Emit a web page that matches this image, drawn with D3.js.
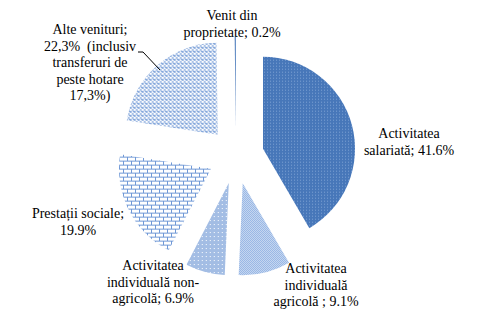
<!DOCTYPE html>
<html>
<head>
<meta charset="utf-8">
<script src="https://cdn.jsdelivr.net/npm/d3@7/dist/d3.min.js"></script>
<style>
  body { margin: 0; background: #fff; }
</style>
</head>
<body>
<svg width="484" height="318"></svg>
<script>
// slice data, clockwise from 12 o'clock
var categories = ["Activitatea salariată", "Activitatea individuală agricolă", "Activitatea individuală non-agricolă", "Prestații sociale", "Alte venituri", "Venit din proprietate"];
var values = [41.6, 9.1, 6.9, 19.9, 22.3, 0.2];
var labelLines = [
  ["Activitatea", "salariată; 41.6%"],
  ["Activitatea", "individuală", "agricolă ; 9.1%"],
  ["Activitatea", "individuală non-", "agricolă; 6.9%"],
  ["Prestații sociale;", "19.9%"],
  ["Alte venituri;", "22,3%  (inclusiv", "transferuri de", "peste hotare", "17,3%)"],
  ["Venit din", "proprietate; 0.2%"]
];

// layout
var cx = 236, cy = 156, r = 92, explode = 28, lineH = 16.6;
var labelAt = [[409, 138], [316, 273], [153, 270], [78, 218], [90, 34], [232, 20]];

var svg = d3.select('svg');
var defs = svg.append('defs');

function pat(id, w, h, bg) {
  var p = defs.append('pattern').attr('id', id).attr('patternUnits', 'userSpaceOnUse')
    .attr('width', w).attr('height', h);
  p.append('rect').attr('width', w).attr('height', h).attr('fill', bg);
  return p;
}
function px(p, x, y, w, h, c) {
  p.append('rect').attr('x', x).attr('y', y).attr('width', w).attr('height', h).attr('fill', c);
}

// salariata: dark blue, light dots
var p0 = pat('p0', 3, 3, '#4777b9');
px(p0, 1, 1, 1, 1, '#7ea2d4');
// agricola: fine checker
var p1 = pat('p1', 2, 2, '#ffffff');
px(p1, 0, 0, 1, 1, '#5f8fd6'); px(p1, 1, 1, 1, 1, '#5f8fd6');
// non-agricola: light blue, white dots
var p2 = pat('p2', 4, 4, '#a3bde4');
px(p2, 1, 1, 1, 1, '#ffffff');
// sociale: horizontal brick
var p3 = pat('p3', 8, 8, '#ffffff');
px(p3, 0, 0, 8, 1, '#6f98d6'); px(p3, 0, 4, 8, 1, '#6f98d6');
px(p3, 0, 0, 1, 4, '#6f98d6'); px(p3, 4, 4, 1, 4, '#6f98d6');
// alte: confetti blocks
var p4 = pat('p4', 4, 4, '#ffffff');
px(p4, 0, 0, 2, 2, '#87a9dc'); px(p4, 2, 2, 2, 2, '#a9c1e6'); px(p4, 3, 0, 1, 1, '#7a9fd8');

var fills = ['url(#p0)', 'url(#p1)', 'url(#p2)', 'url(#p3)', 'url(#p4)', '#4777b9'];

var pie = d3.pie().sort(null).value(function(d) { return d; });
var arc = d3.arc().innerRadius(0).outerRadius(r);
var arcs = pie(values);

var g = svg.append('g').attr('transform', 'translate(' + cx + ',' + cy + ')');
g.selectAll('path').data(arcs).enter().append('path')
  .attr('d', arc)
  .attr('fill', function(d, i) { return fills[i]; })
  .attr('transform', function(d) {
    var a = (d.startAngle + d.endAngle) / 2;
    return 'translate(' + (Math.sin(a) * explode) + ',' + (-Math.cos(a) * explode) + ')';
  });

// leader line for "Alte venituri"
svg.append('polyline')
  .attr('points', '138,52 143,52 160,70')
  .attr('fill', 'none').attr('stroke', '#000').attr('stroke-width', 1);

labelLines.forEach(function(lines, i) {
  var t = svg.append('text').attr('text-anchor', 'middle')
    .attr('font-family', '"Times New Roman", Tinos, "Nimbus Roman", FreeSerif, "Liberation Serif", serif')
    .attr('font-size', 14)
    .attr('xml:space', 'preserve')
    .attr('x', labelAt[i][0]).attr('y', labelAt[i][1]);
  lines.forEach(function(s, j) {
    t.append('tspan').attr('x', labelAt[i][0]).attr('dy', j === 0 ? 0 : lineH).text(s);
  });
});
</script>
</body>
</html>
